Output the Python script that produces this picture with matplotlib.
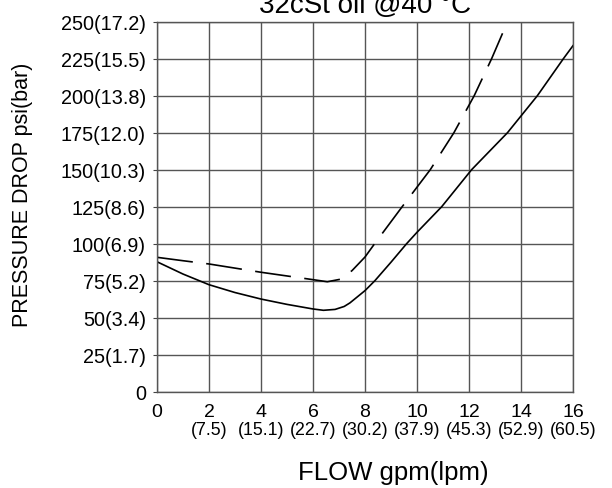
import matplotlib
matplotlib.use("Agg")
import matplotlib.pyplot as plt

plt.rcParams['font.family'] = ['Liberation Sans', 'DejaVu Sans']
plt.rcParams['lines.scale_dashes'] = False

# ---- data ----
gpm_ticks = [0, 2, 4, 6, 8, 10, 12, 14, 16]
gpm_labels = ["0", "2", "4", "6", "8", "10", "12", "14", "16"]
lpm_labels = ["", "(7.5)", "(15.1)", "(22.7)", "(30.2)", "(37.9)", "(45.3)", "(52.9)", "(60.5)"]
psi_ticks = [0, 25, 50, 75, 100, 125, 150, 175, 200, 225, 250]
psi_labels = ["0", "25(1.7)", "50(3.4)", "75(5.2)", "100(6.9)", "125(8.6)",
              "150(10.3)", "175(12.0)", "200(13.8)", "225(15.5)", "250(17.2)"]

solid_x = [0, 1, 2, 3, 4, 5, 6, 6.4, 6.85, 7.2, 7.42, 7.7, 8.0, 8.38, 9.0, 9.6, 10.0, 10.95, 12.1, 13.48, 14.63, 15.63, 16.0]
solid_y = [87.8, 79.5, 72.3, 67.0, 62.6, 59.0, 55.9, 55.0, 55.6, 57.6, 60.0, 64.0, 68.3, 75.0, 87.5, 100.0, 107.7, 125.0, 150.0, 175.0, 200.0, 225.0, 233.8]

dashed_x = [0, 1, 2, 3, 4, 5, 6, 6.55, 7.06, 7.5, 8.0, 8.37, 9.43, 10.51, 11.42, 12.2, 12.87, 13.36]
dashed_y = [90.8, 88.5, 86.3, 83.5, 80.7, 78.2, 75.7, 74.3, 76.0, 81.8, 91.0, 100.0, 125.0, 150.0, 175.0, 200.0, 225.0, 245.0]

title = "32cSt oil @40 °C"
xlabel = "FLOW gpm(lpm)"
ylabel = "PRESSURE DROP psi(bar)"

# ---- figure ----
W, H = 612, 489
fig = plt.figure(figsize=(W / 100, H / 100), dpi=100)
L, R, T, B = 157, 573, 22.7, 392.7
ax = fig.add_axes([L / W, 1 - B / H, (R - L) / W, (B - T) / H])

ax.set_xlim(0, 16)
ax.set_ylim(0, 250)

ax.plot(solid_x, solid_y, color='black', lw=1.2, solid_joinstyle='round')
ax.plot(dashed_x, dashed_y, color='black', lw=1.2, dashes=(26, 9.7))

ax.set_xticks(gpm_ticks)
ax.set_xticklabels(gpm_labels, fontsize=14)
ax.set_yticks(psi_ticks)
ax.set_yticklabels(psi_labels, fontsize=14.3)
ax.tick_params(axis='x', length=0, pad=8)
ax.tick_params(axis='y', length=3, width=0.8, pad=5, color='#444444')

ax.grid(True, color='#555555', lw=1.0)
for s in ax.spines.values():
    s.set_color('#555555')
    s.set_linewidth(1.0)

for x, lab in zip(gpm_ticks, lpm_labels):
    if lab:
        ax.text(x, -0.1035, lab, transform=ax.get_xaxis_transform(),
                ha='center', va='center', fontsize=12.8)

fig.text((L + R) / 2 / W, 1 - 13 / H, title, ha='center', va='baseline', fontsize=20)
fig.text(393 / W, 1 - 473 / H, xlabel, ha='center', va='center', fontsize=18.5)
fig.text(23 / W, 1 - 194.5 / H, ylabel, ha='center', va='center', rotation=90, fontsize=15.5)

fig.savefig("out.png", dpi=100)
